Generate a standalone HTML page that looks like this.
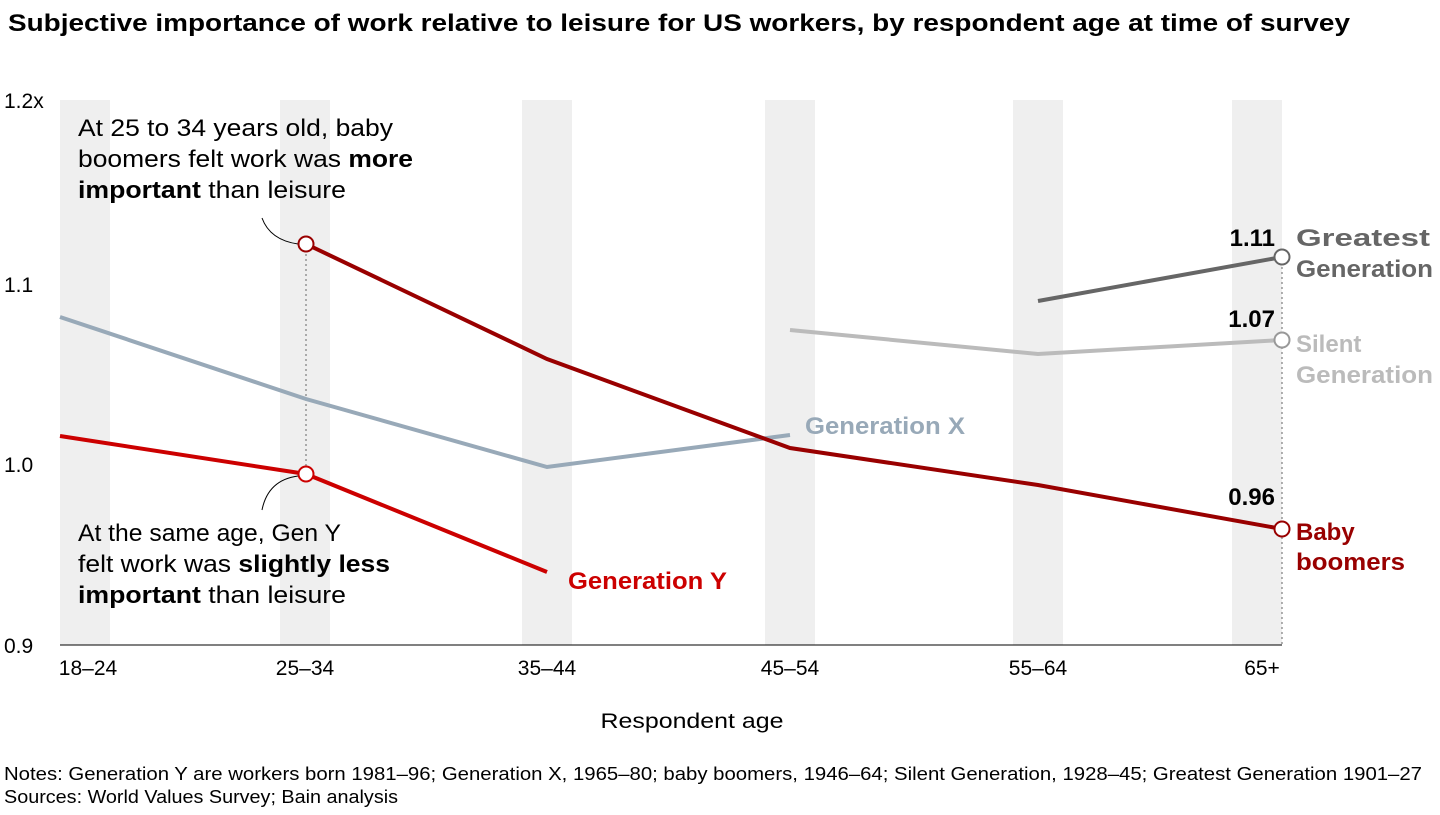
<!DOCTYPE html>
<html><head><meta charset="utf-8"><style>
body{margin:0;background:#fff;width:1440px;height:810px;overflow:hidden;font-family:"Liberation Sans",Arial,sans-serif}
</style></head><body>
<svg width="1440" height="810" xmlns="http://www.w3.org/2000/svg" font-family="Liberation Sans, Arial, sans-serif">
<text x="8" y="31" font-size="24" font-weight="bold" fill="#000" textLength="1342" lengthAdjust="spacingAndGlyphs">Subjective importance of work relative to leisure for US workers, by respondent age at time of survey</text>
<g fill="#efefef">
<rect x="60" y="100" width="50" height="545"/>
<rect x="280" y="100" width="50" height="545"/>
<rect x="522" y="100" width="50" height="545"/>
<rect x="765" y="100" width="50" height="545"/>
<rect x="1013" y="100" width="50" height="545"/>
<rect x="1232" y="100" width="50" height="545"/>
</g>
<g font-size="21" fill="#000">
<text x="4" y="108">1.2x</text>
<text x="4" y="292">1.1</text>
<text x="4" y="472">1.0</text>
<text x="4" y="653">0.9</text>
</g>
<line x1="60" y1="645" x2="1282" y2="645" stroke="#000" stroke-width="1"/>
<g font-size="21" fill="#000" text-anchor="middle">
<text x="88" y="675">18–24</text>
<text x="305" y="675">25–34</text>
<text x="547" y="675">35–44</text>
<text x="790" y="675">45–54</text>
<text x="1038" y="675">55–64</text>
<text x="1262" y="675">65+</text>
<text x="692" y="728" textLength="183" lengthAdjust="spacingAndGlyphs">Respondent age</text>
</g>
<line x1="306" y1="244" x2="306" y2="474" stroke="#666" stroke-dasharray="2,3" stroke-width="1"/>
<line x1="1282" y1="257" x2="1282" y2="645" stroke="#666" stroke-dasharray="2,3" stroke-width="1"/>
<g fill="none" stroke-width="4">
<polyline points="60,317 306,399 547,467 790,435" stroke="#98a9b8"/>
<polyline points="60,436 306,474 547,572" stroke="#cc0000"/>
<polyline points="306,244 547,359 790,448 1038,485 1282,529" stroke="#990000"/>
<polyline points="790,330 1038,354 1282,340" stroke="#bbbbbb"/>
<polyline points="1038,301 1282,257" stroke="#666666"/>
</g>
<path d="M262,218 Q270,240 298,244" fill="none" stroke="#000" stroke-width="1"/>
<path d="M262,510 Q268,480 298,476" fill="none" stroke="#000" stroke-width="1"/>
<g stroke-width="2" fill="#fff">
<circle cx="306" cy="244" r="7.5" stroke="#990000"/>
<circle cx="306" cy="474" r="7.5" stroke="#cc0000"/>
<circle cx="1282" cy="529" r="7.5" stroke="#990000"/>
<circle cx="1282" cy="340" r="7.5" stroke="#999"/>
<circle cx="1282" cy="257" r="7.5" stroke="#666"/>
</g>
<g font-size="24" fill="#000" lengthAdjust="spacingAndGlyphs">
<text x="78" y="136" textLength="315" lengthAdjust="spacingAndGlyphs">At 25 to 34 years old, baby</text>
<text x="78" y="167" textLength="335" lengthAdjust="spacingAndGlyphs">boomers felt work was <tspan font-weight="bold">more</tspan></text>
<text x="78" y="198" textLength="268" lengthAdjust="spacingAndGlyphs"><tspan font-weight="bold">important</tspan> than leisure</text>
<text x="78" y="541" textLength="263" lengthAdjust="spacingAndGlyphs">At the same age, Gen Y</text>
<text x="78" y="572" textLength="312" lengthAdjust="spacingAndGlyphs">felt work was <tspan font-weight="bold">slightly less</tspan></text>
<text x="78" y="603" textLength="268" lengthAdjust="spacingAndGlyphs"><tspan font-weight="bold">important</tspan> than leisure</text>
</g>
<g font-size="24" font-weight="bold">
<text x="568" y="589" fill="#cc0000" textLength="159" lengthAdjust="spacingAndGlyphs">Generation Y</text>
<text x="805" y="434" fill="#98a9b8" textLength="160" lengthAdjust="spacingAndGlyphs">Generation X</text>
<text x="1296" y="540" fill="#990000">Baby</text>
<text x="1296" y="570" fill="#990000" textLength="109" lengthAdjust="spacingAndGlyphs">boomers</text>
<text x="1296" y="352" fill="#bbbbbb">Silent</text>
<text x="1296" y="383" fill="#bbbbbb" textLength="137" lengthAdjust="spacingAndGlyphs">Generation</text>
<text x="1296" y="246" fill="#666" textLength="134" lengthAdjust="spacingAndGlyphs">Greatest</text>
<text x="1296" y="277" fill="#666" textLength="137" lengthAdjust="spacingAndGlyphs">Generation</text>
<g fill="#000" text-anchor="end">
<text x="1275" y="246">1.11</text>
<text x="1275" y="327">1.07</text>
<text x="1275" y="505">0.96</text>
</g>
</g>
<g font-size="18" fill="#000">
<text x="4" y="780" textLength="1418" lengthAdjust="spacingAndGlyphs">Notes: Generation Y are workers born 1981–96; Generation X, 1965–80; baby boomers, 1946–64; Silent Generation, 1928–45; Greatest Generation 1901–27</text>
<text x="4" y="803" textLength="394" lengthAdjust="spacingAndGlyphs">Sources: World Values Survey; Bain analysis</text>
</g>
</svg>
</body></html>
